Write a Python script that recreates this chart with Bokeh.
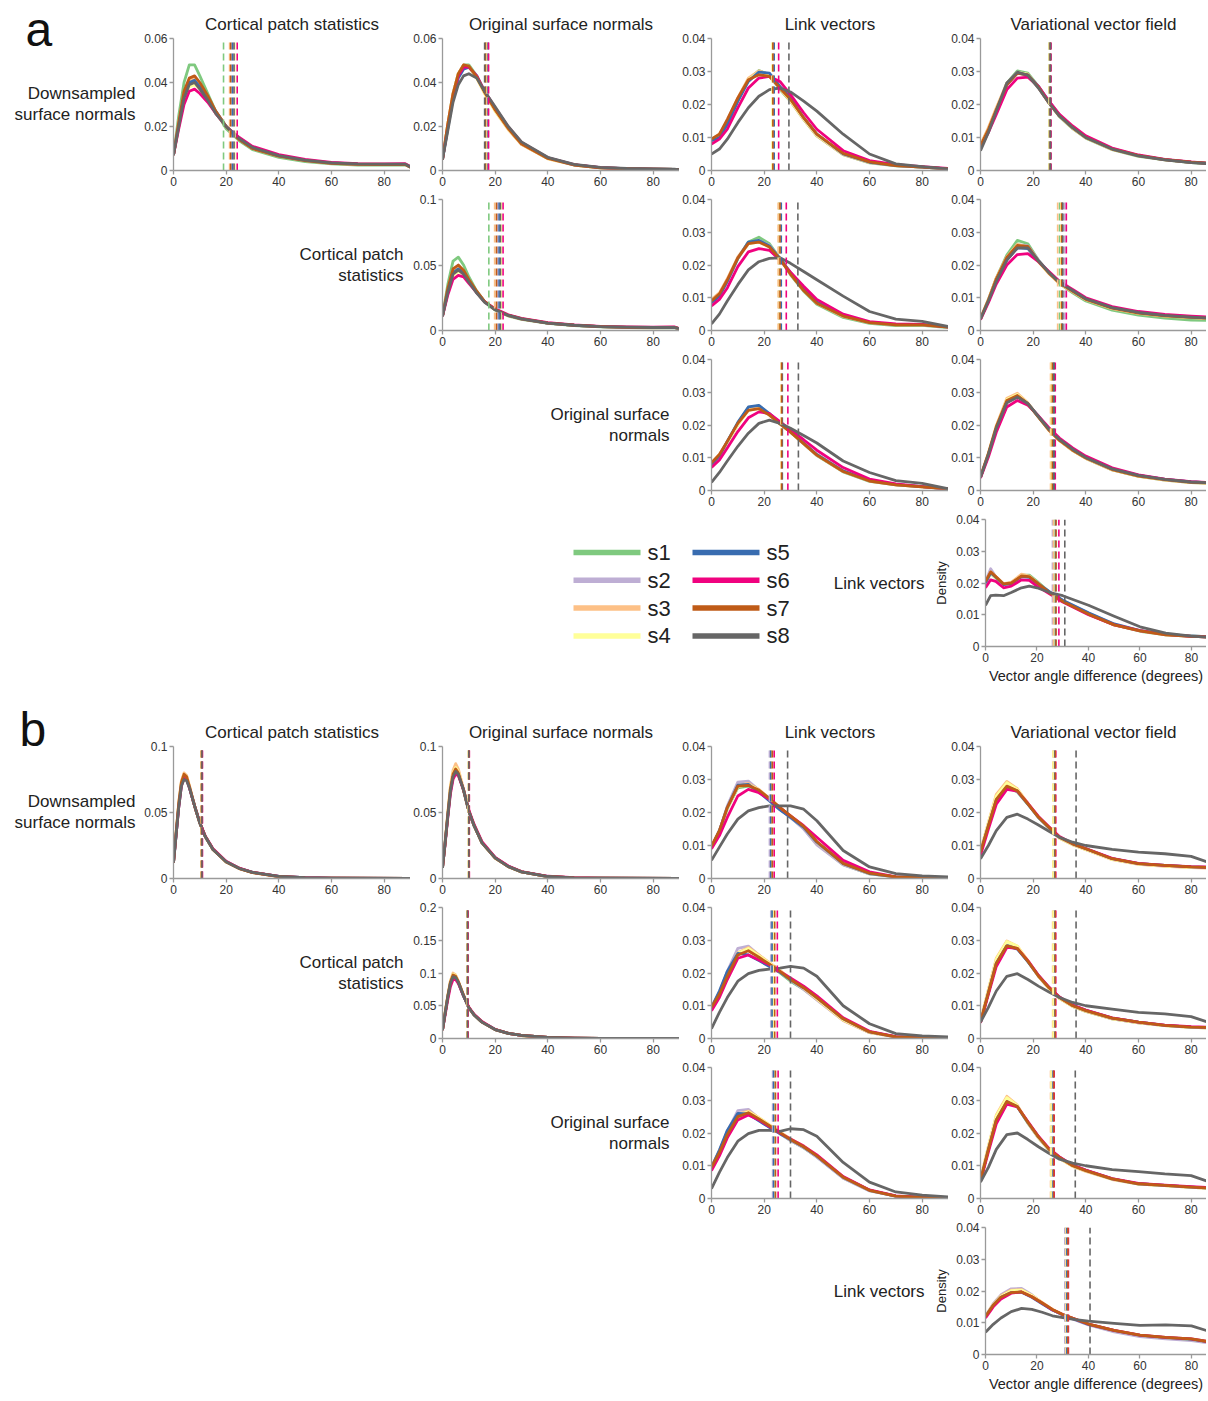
from bokeh.plotting import figure
from bokeh.models import Range1d, FixedTicker, CustomJSTickFormatter, ColumnDataSource
from bokeh.layouts import column, row
from bokeh.embed import file_html
from bokeh.resources import INLINE
from bokeh.core.properties import value

FONT = "Liberation Sans"
SERIES = ["s1", "s2", "s3", "s4", "s5", "s6", "s7", "s8"]
COLORS = ["#7fc97f", "#beaed4", "#fdc086", "#ffff99", "#386cb0", "#f0027f", "#bf5b17", "#666666"]
PANEL_LETTERS = ["a", "b"]
COL_TITLES = ["Cortical patch statistics", "Original surface normals", "Link vectors", "Variational vector field"]
ROW_LABELS = [["Downsampled", "surface normals"], ["Cortical patch", "statistics"],
              ["Original surface", "normals"], ["Link vectors"]]
X_TICKS = [0, 20, 40, 60, 80]
YT_04 = [0, 0.01, 0.02, 0.03, 0.04]
YT_06 = [0, 0.02, 0.04, 0.06]
YT_10 = [0, 0.05, 0.1]
YT_20 = [0, 0.05, 0.1, 0.15, 0.2]
X_LABEL = "Vector angle difference (degrees)"
Y_LABEL = "Density"

# x grids (degrees) at which the density curves were read
GM = [0, 2, 4, 6, 8, 10, 13, 16, 20, 25, 30, 40, 50, 60, 70, 80, 88, 90]
GW = [0, 3, 6, 10, 14, 18, 22, 26, 30, 35, 40, 50, 60, 70, 80, 90]
GN = [0, 1, 2, 3, 4, 5, 6, 8, 10, 12, 15, 20, 25, 30, 40, 50, 60, 90]
GA44 = [0, 2, 4, 7, 10, 14, 17, 20, 25, 30, 40, 50, 60, 70, 80, 90]

# ---------------- panel a ----------------
A11 = dict(
    s1=[0.007, 0.025, 0.040, 0.048, 0.048, 0.043, 0.035, 0.027, 0.019, 0.0135, 0.0095, 0.006, 0.004, 0.003, 0.0025, 0.0025, 0.0025, 0.0015],
    s2=[0.007, 0.021, 0.033, 0.039, 0.040, 0.038, 0.033, 0.027, 0.020, 0.0143, 0.0103, 0.0067, 0.0046, 0.0034, 0.0029, 0.0028, 0.0028, 0.0016],
    s3=[0.007, 0.022, 0.035, 0.041, 0.042, 0.039, 0.033, 0.027, 0.020, 0.014, 0.010, 0.0065, 0.0045, 0.0033, 0.0028, 0.0027, 0.0027, 0.0015],
    s4=[0.007, 0.020, 0.032, 0.038, 0.039, 0.037, 0.032, 0.026, 0.020, 0.0145, 0.0105, 0.0068, 0.0047, 0.0035, 0.003, 0.0029, 0.0029, 0.0016],
    s5=[0.007, 0.021, 0.034, 0.040, 0.041, 0.038, 0.033, 0.027, 0.020, 0.0142, 0.0102, 0.0066, 0.0046, 0.0034, 0.0029, 0.0028, 0.0028, 0.0016],
    s6=[0.007, 0.019, 0.030, 0.036, 0.037, 0.035, 0.031, 0.026, 0.020, 0.015, 0.011, 0.0072, 0.005, 0.0037, 0.0031, 0.003, 0.0031, 0.0017],
    s7=[0.007, 0.022, 0.036, 0.042, 0.043, 0.040, 0.034, 0.027, 0.020, 0.014, 0.010, 0.0065, 0.0045, 0.0033, 0.0028, 0.0027, 0.0027, 0.0015],
    s8=[0.007, 0.020, 0.033, 0.039, 0.040, 0.037, 0.032, 0.026, 0.020, 0.0145, 0.0105, 0.0068, 0.0047, 0.0035, 0.003, 0.0029, 0.0029, 0.0016],
)
MED_A11 = [19.0, 22.7, 21.3, 23.3, 22.3, 24.2, 21.7, 23.0]

A12 = dict(
    s1=[0.005, 0.021, 0.035, 0.044, 0.048, 0.048, 0.043, 0.036, 0.028, 0.019, 0.012, 0.0055, 0.0025, 0.0012, 0.0008, 0.0006, 0.0005, 0.0004],
    s2=[0.005, 0.020, 0.034, 0.043, 0.047, 0.047, 0.043, 0.036, 0.028, 0.0195, 0.0125, 0.0057, 0.0026, 0.0013, 0.0008, 0.0006, 0.0005, 0.0004],
    s3=[0.005, 0.021, 0.035, 0.044, 0.048, 0.0475, 0.042, 0.035, 0.027, 0.0185, 0.0118, 0.0053, 0.0024, 0.0012, 0.0008, 0.0006, 0.0005, 0.0004],
    s4=[0.005, 0.021, 0.035, 0.044, 0.0475, 0.047, 0.042, 0.035, 0.027, 0.0188, 0.012, 0.0054, 0.0025, 0.0012, 0.0008, 0.0006, 0.0005, 0.0004],
    s5=[0.005, 0.019, 0.033, 0.042, 0.046, 0.047, 0.043, 0.036, 0.028, 0.0195, 0.0125, 0.0057, 0.0026, 0.0013, 0.0008, 0.0006, 0.0005, 0.0004],
    s6=[0.005, 0.020, 0.034, 0.043, 0.047, 0.047, 0.043, 0.036, 0.0285, 0.0198, 0.0128, 0.0058, 0.0027, 0.0013, 0.0008, 0.0006, 0.0005, 0.0004],
    s7=[0.005, 0.021, 0.035, 0.044, 0.048, 0.0475, 0.0425, 0.0355, 0.0275, 0.019, 0.012, 0.0055, 0.0025, 0.0012, 0.0008, 0.0006, 0.0005, 0.0004],
    s8=[0.005, 0.018, 0.031, 0.039, 0.043, 0.044, 0.042, 0.036, 0.029, 0.020, 0.013, 0.006, 0.0028, 0.0014, 0.0009, 0.0007, 0.0006, 0.0004],
)
MED_A12 = [16.5, 17.2, 16.6, 17.0, 17.3, 17.5, 16.3, 16.0]

A13 = dict(
    s1=[0.0095, 0.0105, 0.014, 0.021, 0.0275, 0.0303, 0.029, 0.0245, 0.021, 0.0155, 0.0105, 0.0048, 0.0023, 0.0014, 0.001, 0.0005],
    s2=[0.0095, 0.0105, 0.0145, 0.0215, 0.0275, 0.030, 0.0292, 0.025, 0.0213, 0.0158, 0.0108, 0.005, 0.0025, 0.0015, 0.001, 0.0005],
    s3=[0.0095, 0.011, 0.015, 0.022, 0.028, 0.0302, 0.029, 0.0248, 0.021, 0.0155, 0.0105, 0.0048, 0.0024, 0.0015, 0.001, 0.0005],
    s4=[0.0092, 0.0105, 0.0145, 0.0215, 0.0275, 0.0298, 0.0288, 0.025, 0.0212, 0.0157, 0.0107, 0.005, 0.0025, 0.0015, 0.001, 0.0005],
    s5=[0.009, 0.010, 0.014, 0.021, 0.027, 0.0298, 0.0295, 0.0255, 0.022, 0.016, 0.011, 0.005, 0.0025, 0.0015, 0.001, 0.0005],
    s6=[0.008, 0.0095, 0.0125, 0.019, 0.025, 0.028, 0.0285, 0.027, 0.023, 0.0175, 0.0125, 0.006, 0.003, 0.0018, 0.0012, 0.0006],
    s7=[0.0095, 0.011, 0.0155, 0.022, 0.0275, 0.029, 0.0285, 0.025, 0.0215, 0.016, 0.011, 0.0052, 0.0026, 0.0015, 0.001, 0.0005],
    s8=[0.005, 0.0065, 0.0095, 0.0145, 0.019, 0.0225, 0.0245, 0.025, 0.0238, 0.021, 0.018, 0.011, 0.005, 0.002, 0.0012, 0.0005],
)
MED_A13 = [23.2, 23.6, 23.4, 23.0, 23.8, 25.5, 23.3, 29.4]

A14 = dict(
    s1=[0.0075, 0.0125, 0.0185, 0.0265, 0.0302, 0.0295, 0.0255, 0.0205, 0.0163, 0.0127, 0.0098, 0.0063, 0.0043, 0.0032, 0.0024, 0.0019],
    s2=[0.007, 0.012, 0.018, 0.026, 0.0298, 0.029, 0.025, 0.0205, 0.0165, 0.013, 0.010, 0.0065, 0.0045, 0.0033, 0.0025, 0.002],
    s3=[0.0078, 0.013, 0.019, 0.0265, 0.0295, 0.0288, 0.0252, 0.0205, 0.0165, 0.0128, 0.0099, 0.0064, 0.0044, 0.0032, 0.0025, 0.002],
    s4=[0.0075, 0.0125, 0.0185, 0.026, 0.0297, 0.0292, 0.0253, 0.0206, 0.0166, 0.013, 0.010, 0.0065, 0.0045, 0.0033, 0.0025, 0.002],
    s5=[0.007, 0.012, 0.018, 0.026, 0.0295, 0.029, 0.0255, 0.021, 0.0168, 0.0131, 0.0101, 0.0066, 0.0045, 0.0033, 0.0025, 0.002],
    s6=[0.007, 0.0115, 0.017, 0.0245, 0.028, 0.0283, 0.0255, 0.021, 0.017, 0.0135, 0.0105, 0.0068, 0.0047, 0.0034, 0.0026, 0.002],
    s7=[0.0075, 0.0125, 0.0185, 0.026, 0.0295, 0.029, 0.0252, 0.0205, 0.0165, 0.013, 0.010, 0.0065, 0.0045, 0.0033, 0.0025, 0.002],
    s8=[0.006, 0.0115, 0.018, 0.0265, 0.0298, 0.0288, 0.025, 0.0205, 0.0165, 0.013, 0.010, 0.0065, 0.0044, 0.0032, 0.0024, 0.0019],
)
MED_A14 = [26.0, 26.3, 26.1, 26.2, 26.4, 26.8, 26.5, 26.6]

A22 = dict(
    s1=[0.011, 0.035, 0.053, 0.056, 0.050, 0.041, 0.030, 0.022, 0.0155, 0.011, 0.0085, 0.0055, 0.0038, 0.0028, 0.0022, 0.002, 0.0022, 0.0012],
    s2=[0.011, 0.029, 0.043, 0.046, 0.043, 0.037, 0.029, 0.022, 0.016, 0.0117, 0.009, 0.0058, 0.0041, 0.003, 0.0025, 0.0023, 0.0025, 0.0013],
    s3=[0.011, 0.031, 0.046, 0.049, 0.045, 0.038, 0.029, 0.022, 0.0158, 0.0113, 0.0087, 0.0056, 0.0039, 0.0029, 0.0023, 0.0021, 0.0023, 0.0012],
    s4=[0.011, 0.029, 0.042, 0.045, 0.043, 0.037, 0.029, 0.022, 0.016, 0.0117, 0.009, 0.0058, 0.0041, 0.003, 0.0025, 0.0023, 0.0025, 0.0013],
    s5=[0.011, 0.030, 0.044, 0.047, 0.044, 0.038, 0.029, 0.022, 0.016, 0.0115, 0.0088, 0.0057, 0.004, 0.003, 0.0024, 0.0022, 0.0024, 0.0013],
    s6=[0.011, 0.027, 0.039, 0.042, 0.041, 0.036, 0.029, 0.022, 0.0165, 0.012, 0.0093, 0.006, 0.0043, 0.0032, 0.0027, 0.0026, 0.0028, 0.0015],
    s7=[0.011, 0.032, 0.047, 0.050, 0.046, 0.039, 0.030, 0.022, 0.016, 0.0115, 0.0088, 0.0057, 0.004, 0.003, 0.0024, 0.0022, 0.0024, 0.0013],
    s8=[0.011, 0.029, 0.043, 0.046, 0.043, 0.037, 0.0285, 0.0215, 0.0158, 0.0115, 0.0088, 0.0057, 0.004, 0.003, 0.0025, 0.0023, 0.0024, 0.0013],
)
MED_A22 = [17.6, 21.0, 19.8, 22.3, 21.5, 23.0, 20.5, 22.0]

A23 = dict(
    s1=[0.009, 0.011, 0.015, 0.022, 0.027, 0.0285, 0.0265, 0.022, 0.017, 0.012, 0.008, 0.004, 0.0022, 0.0015, 0.0016, 0.0009],
    s2=[0.009, 0.011, 0.015, 0.022, 0.0265, 0.0275, 0.026, 0.022, 0.0175, 0.0125, 0.0085, 0.0045, 0.0025, 0.0018, 0.0018, 0.001],
    s3=[0.0095, 0.0115, 0.0158, 0.0225, 0.0268, 0.0273, 0.0255, 0.0218, 0.0173, 0.0123, 0.0083, 0.0043, 0.0024, 0.0017, 0.0017, 0.001],
    s4=[0.009, 0.011, 0.0152, 0.022, 0.0265, 0.027, 0.0255, 0.022, 0.0175, 0.0125, 0.0085, 0.0045, 0.0025, 0.0018, 0.0018, 0.001],
    s5=[0.0085, 0.0105, 0.015, 0.022, 0.027, 0.0275, 0.0258, 0.022, 0.0177, 0.0127, 0.0087, 0.0046, 0.0025, 0.0018, 0.0018, 0.001],
    s6=[0.0075, 0.0095, 0.013, 0.0195, 0.024, 0.025, 0.0245, 0.0215, 0.0178, 0.0135, 0.0095, 0.005, 0.0027, 0.002, 0.0019, 0.0011],
    s7=[0.009, 0.0112, 0.0155, 0.0222, 0.0265, 0.027, 0.0255, 0.0218, 0.0172, 0.0122, 0.0083, 0.0044, 0.0024, 0.0017, 0.0017, 0.001],
    s8=[0.002, 0.005, 0.009, 0.014, 0.0185, 0.021, 0.022, 0.0222, 0.0205, 0.018, 0.0155, 0.0105, 0.0058, 0.0035, 0.0028, 0.0012],
)
MED_A23 = [25.6, 26.2, 25.3, 25.9, 26.5, 28.4, 26.0, 32.8]

A24 = dict(
    s1=[0.0035, 0.0095, 0.016, 0.023, 0.0275, 0.0265, 0.0215, 0.0175, 0.0143, 0.0115, 0.009, 0.0062, 0.0047, 0.0038, 0.0032, 0.003],
    s2=[0.0035, 0.009, 0.0155, 0.0222, 0.0262, 0.0258, 0.0215, 0.0178, 0.0147, 0.0122, 0.0097, 0.007, 0.0055, 0.0047, 0.0042, 0.0038],
    s3=[0.0038, 0.0095, 0.016, 0.0225, 0.0263, 0.0255, 0.021, 0.0173, 0.0143, 0.0118, 0.0094, 0.0067, 0.0052, 0.0044, 0.0039, 0.0035],
    s4=[0.0035, 0.0092, 0.0157, 0.0222, 0.026, 0.0254, 0.021, 0.0175, 0.0145, 0.012, 0.0095, 0.0068, 0.0053, 0.0045, 0.004, 0.0036],
    s5=[0.0035, 0.009, 0.015, 0.0215, 0.0252, 0.025, 0.0212, 0.0177, 0.0147, 0.0122, 0.0097, 0.007, 0.0055, 0.0046, 0.0041, 0.0037],
    s6=[0.0033, 0.0085, 0.0142, 0.020, 0.0232, 0.0235, 0.021, 0.018, 0.015, 0.0125, 0.010, 0.0073, 0.0058, 0.0049, 0.0044, 0.004],
    s7=[0.0036, 0.0093, 0.0158, 0.0223, 0.026, 0.0257, 0.0212, 0.0175, 0.0145, 0.012, 0.0095, 0.0068, 0.0053, 0.0045, 0.004, 0.0036],
    s8=[0.0035, 0.009, 0.015, 0.0215, 0.0252, 0.0252, 0.0213, 0.0177, 0.0147, 0.0122, 0.0097, 0.007, 0.0055, 0.0046, 0.0041, 0.0037],
)
MED_A24 = [30.0, 32.0, 29.3, 30.5, 31.0, 32.6, 30.8, 31.3]

A33 = dict(
    s1=[0.0082, 0.0105, 0.0148, 0.0205, 0.0253, 0.0258, 0.0232, 0.0203, 0.0178, 0.0142, 0.0107, 0.0057, 0.0028, 0.0017, 0.0011, 0.0005],
    s2=[0.008, 0.0105, 0.0145, 0.020, 0.025, 0.0255, 0.0233, 0.0205, 0.018, 0.0145, 0.011, 0.006, 0.003, 0.0018, 0.0012, 0.0005],
    s3=[0.0085, 0.011, 0.015, 0.0205, 0.0248, 0.0252, 0.023, 0.0203, 0.0178, 0.0143, 0.0108, 0.0058, 0.0029, 0.0017, 0.0011, 0.0005],
    s4=[0.008, 0.0105, 0.0145, 0.020, 0.0245, 0.025, 0.023, 0.0204, 0.018, 0.0145, 0.011, 0.006, 0.003, 0.0018, 0.0012, 0.0005],
    s5=[0.008, 0.0105, 0.015, 0.0208, 0.0255, 0.026, 0.0235, 0.0205, 0.018, 0.0145, 0.011, 0.006, 0.003, 0.0018, 0.0012, 0.0005],
    s6=[0.007, 0.0093, 0.013, 0.018, 0.0222, 0.024, 0.0235, 0.021, 0.0185, 0.0155, 0.0123, 0.007, 0.0035, 0.002, 0.0012, 0.0005],
    s7=[0.0085, 0.011, 0.015, 0.0205, 0.0245, 0.025, 0.023, 0.0203, 0.0178, 0.0143, 0.0108, 0.0058, 0.0029, 0.0017, 0.0011, 0.0005],
    s8=[0.0025, 0.0055, 0.009, 0.0135, 0.0175, 0.0205, 0.0215, 0.0205, 0.019, 0.0168, 0.0145, 0.009, 0.0055, 0.003, 0.0022, 0.0005],
)
MED_A33 = [26.5, 26.8, 26.4, 26.6, 26.9, 29.0, 26.7, 33.0]

A34 = dict(
    s1=[0.004, 0.011, 0.019, 0.027, 0.029, 0.0265, 0.0225, 0.0185, 0.0153, 0.0122, 0.0098, 0.0063, 0.0043, 0.0032, 0.0024, 0.0021],
    s2=[0.004, 0.0108, 0.0188, 0.0268, 0.0288, 0.0265, 0.0226, 0.0187, 0.0156, 0.0126, 0.0101, 0.0066, 0.0046, 0.0034, 0.0026, 0.0023],
    s3=[0.0042, 0.0115, 0.0198, 0.0282, 0.0297, 0.0268, 0.0225, 0.0183, 0.0152, 0.0122, 0.0098, 0.0063, 0.0044, 0.0032, 0.0024, 0.0021],
    s4=[0.0042, 0.0113, 0.0195, 0.0278, 0.0293, 0.0266, 0.0224, 0.0184, 0.0153, 0.0123, 0.0099, 0.0064, 0.0044, 0.0033, 0.0025, 0.0022],
    s5=[0.004, 0.011, 0.019, 0.027, 0.0288, 0.0265, 0.0226, 0.0187, 0.0156, 0.0126, 0.0101, 0.0066, 0.0046, 0.0034, 0.0026, 0.0023],
    s6=[0.0038, 0.0102, 0.0178, 0.0255, 0.0275, 0.026, 0.0228, 0.0192, 0.016, 0.013, 0.0105, 0.0069, 0.0048, 0.0035, 0.0027, 0.0023],
    s7=[0.0042, 0.0113, 0.0195, 0.0275, 0.029, 0.0265, 0.0224, 0.0184, 0.0153, 0.0123, 0.0099, 0.0064, 0.0044, 0.0033, 0.0025, 0.0022],
    s8=[0.004, 0.011, 0.019, 0.0268, 0.0285, 0.0265, 0.0226, 0.0187, 0.0156, 0.0126, 0.0101, 0.0066, 0.0046, 0.0034, 0.0026, 0.0023],
)
MED_A34 = [27.0, 27.6, 26.6, 26.9, 27.8, 28.4, 27.3, 28.0]

A44 = dict(
    s1=[0.020, 0.023, 0.0215, 0.0195, 0.020, 0.0225, 0.0225, 0.0205, 0.017, 0.0143, 0.0102, 0.0068, 0.0048, 0.0037, 0.0032, 0.0029],
    s2=[0.0205, 0.0245, 0.022, 0.0195, 0.0198, 0.022, 0.022, 0.020, 0.017, 0.0145, 0.0105, 0.007, 0.005, 0.0038, 0.0033, 0.003],
    s3=[0.0205, 0.0235, 0.022, 0.0198, 0.0202, 0.0228, 0.0222, 0.0202, 0.0168, 0.0142, 0.0102, 0.0068, 0.0049, 0.0037, 0.0032, 0.0029],
    s4=[0.020, 0.023, 0.0215, 0.0195, 0.020, 0.0222, 0.022, 0.020, 0.017, 0.0144, 0.0104, 0.007, 0.005, 0.0038, 0.0033, 0.003],
    s5=[0.020, 0.0232, 0.0218, 0.0195, 0.0198, 0.022, 0.0218, 0.020, 0.0172, 0.0146, 0.0106, 0.0071, 0.005, 0.0038, 0.0033, 0.003],
    s6=[0.0185, 0.021, 0.0205, 0.0185, 0.019, 0.021, 0.0208, 0.019, 0.0165, 0.014, 0.010, 0.0068, 0.005, 0.0038, 0.0032, 0.0029],
    s7=[0.0205, 0.0235, 0.022, 0.0197, 0.020, 0.0222, 0.022, 0.0201, 0.0168, 0.0142, 0.0102, 0.0068, 0.0049, 0.0037, 0.0032, 0.0029],
    s8=[0.013, 0.016, 0.0162, 0.016, 0.017, 0.0185, 0.019, 0.0185, 0.017, 0.016, 0.013, 0.0095, 0.0062, 0.0042, 0.0033, 0.0027],
)
MED_A44 = [26.8, 26.0, 26.4, 27.0, 27.2, 28.5, 27.4, 30.8]

# ---------------- panel b ----------------
B11 = dict(
    s1=[0.012, 0.034, 0.056, 0.072, 0.078, 0.076, 0.070, 0.055, 0.042, 0.032, 0.022, 0.0126, 0.0076, 0.0046, 0.0016, 0.0006, 0.0003, 0.0001],
    s2=[0.012, 0.034, 0.056, 0.072, 0.077, 0.076, 0.070, 0.055, 0.042, 0.032, 0.022, 0.0127, 0.0076, 0.0046, 0.0016, 0.0006, 0.0003, 0.0001],
    s3=[0.012, 0.035, 0.058, 0.074, 0.080, 0.078, 0.071, 0.055, 0.042, 0.032, 0.022, 0.0125, 0.0075, 0.0045, 0.0015, 0.0005, 0.0003, 0.0001],
    s4=[0.012, 0.035, 0.057, 0.073, 0.079, 0.077, 0.070, 0.055, 0.042, 0.032, 0.022, 0.0125, 0.0075, 0.0045, 0.0015, 0.0005, 0.0003, 0.0001],
    s5=[0.012, 0.033, 0.055, 0.071, 0.076, 0.075, 0.069, 0.055, 0.042, 0.032, 0.0222, 0.0127, 0.0077, 0.0046, 0.0016, 0.0006, 0.0003, 0.0001],
    s6=[0.012, 0.033, 0.054, 0.070, 0.076, 0.075, 0.069, 0.055, 0.0425, 0.0325, 0.0225, 0.013, 0.0078, 0.0047, 0.0016, 0.0006, 0.0003, 0.0001],
    s7=[0.012, 0.035, 0.057, 0.073, 0.079, 0.077, 0.070, 0.055, 0.042, 0.032, 0.022, 0.0125, 0.0075, 0.0045, 0.0015, 0.0005, 0.0003, 0.0001],
    s8=[0.012, 0.033, 0.054, 0.070, 0.075, 0.074, 0.069, 0.055, 0.042, 0.032, 0.022, 0.0127, 0.0076, 0.0046, 0.0016, 0.0006, 0.0003, 0.0001],
)
MED_B11 = [10.7, 10.8, 10.5, 10.6, 10.9, 11.0, 10.6, 10.8]

B12 = dict(
    s1=[0.008, 0.027, 0.048, 0.068, 0.079, 0.083, 0.080, 0.067, 0.051, 0.040, 0.027, 0.0155, 0.009, 0.005, 0.0015, 0.0005, 0.0002, 0.0001],
    s2=[0.008, 0.027, 0.048, 0.067, 0.078, 0.082, 0.080, 0.067, 0.051, 0.040, 0.027, 0.0157, 0.009, 0.005, 0.0015, 0.0005, 0.0002, 0.0001],
    s3=[0.008, 0.028, 0.050, 0.070, 0.082, 0.087, 0.083, 0.068, 0.051, 0.040, 0.027, 0.0155, 0.009, 0.005, 0.0015, 0.0005, 0.0002, 0.0001],
    s4=[0.008, 0.028, 0.049, 0.069, 0.080, 0.084, 0.081, 0.067, 0.051, 0.040, 0.027, 0.0155, 0.009, 0.005, 0.0015, 0.0005, 0.0002, 0.0001],
    s5=[0.008, 0.027, 0.047, 0.066, 0.077, 0.081, 0.079, 0.067, 0.051, 0.040, 0.0272, 0.0157, 0.0092, 0.0051, 0.0016, 0.0005, 0.0002, 0.0001],
    s6=[0.008, 0.026, 0.046, 0.064, 0.075, 0.079, 0.078, 0.067, 0.052, 0.041, 0.028, 0.016, 0.0095, 0.0053, 0.0017, 0.0006, 0.0002, 0.0001],
    s7=[0.008, 0.027, 0.048, 0.068, 0.079, 0.083, 0.080, 0.067, 0.051, 0.040, 0.027, 0.0155, 0.009, 0.005, 0.0015, 0.0005, 0.0002, 0.0001],
    s8=[0.008, 0.027, 0.047, 0.066, 0.077, 0.081, 0.079, 0.067, 0.051, 0.040, 0.027, 0.0156, 0.009, 0.005, 0.0015, 0.0005, 0.0002, 0.0001],
)
MED_B12 = [9.9, 10.1, 9.8, 9.9, 10.1, 10.2, 10.0, 10.0]

B13 = dict(
    s1=[0.0095, 0.014, 0.021, 0.0275, 0.028, 0.0265, 0.0238, 0.021, 0.0185, 0.0152, 0.0105, 0.0042, 0.0014, 0.0005, 0.0003, 0.0002],
    s2=[0.0095, 0.0145, 0.022, 0.0292, 0.0295, 0.0268, 0.0238, 0.021, 0.0185, 0.015, 0.0102, 0.0041, 0.0014, 0.0005, 0.0003, 0.0002],
    s3=[0.0098, 0.0145, 0.0215, 0.0282, 0.0288, 0.027, 0.0243, 0.0215, 0.0188, 0.0155, 0.0108, 0.0044, 0.0015, 0.0005, 0.0003, 0.0002],
    s4=[0.0095, 0.014, 0.021, 0.0278, 0.0285, 0.0268, 0.0242, 0.0215, 0.019, 0.0158, 0.011, 0.0045, 0.0015, 0.0005, 0.0003, 0.0002],
    s5=[0.0095, 0.0145, 0.0215, 0.0283, 0.0285, 0.0262, 0.0235, 0.0208, 0.0185, 0.0155, 0.011, 0.0045, 0.0015, 0.0005, 0.0003, 0.0002],
    s6=[0.009, 0.013, 0.0185, 0.025, 0.027, 0.026, 0.024, 0.0215, 0.019, 0.016, 0.0125, 0.0055, 0.002, 0.0005, 0.0003, 0.0002],
    s7=[0.0098, 0.0145, 0.0215, 0.028, 0.0282, 0.0268, 0.0243, 0.0215, 0.019, 0.0158, 0.0112, 0.0046, 0.0016, 0.0005, 0.0003, 0.0002],
    s8=[0.0055, 0.0095, 0.0135, 0.018, 0.0205, 0.0215, 0.022, 0.022, 0.022, 0.021, 0.0175, 0.0085, 0.0035, 0.0015, 0.0008, 0.0005],
)
MED_B13 = [22.3, 22.0, 22.6, 22.9, 22.5, 23.8, 23.1, 28.9]

B14 = dict(
    s1=[0.008, 0.016, 0.024, 0.0278, 0.0262, 0.0225, 0.0185, 0.0153, 0.0123, 0.0103, 0.0088, 0.0059, 0.0044, 0.0038, 0.0034, 0.0032],
    s2=[0.008, 0.016, 0.0238, 0.0278, 0.0265, 0.0227, 0.0187, 0.0155, 0.0125, 0.0105, 0.009, 0.006, 0.0045, 0.004, 0.0035, 0.0033],
    s3=[0.0085, 0.017, 0.0255, 0.0294, 0.0272, 0.0228, 0.0185, 0.0152, 0.0122, 0.0102, 0.0087, 0.0057, 0.0043, 0.0037, 0.0033, 0.0031],
    s4=[0.0085, 0.0168, 0.025, 0.029, 0.027, 0.0227, 0.0185, 0.0153, 0.0123, 0.0103, 0.0088, 0.0058, 0.0044, 0.0038, 0.0034, 0.0032],
    s5=[0.008, 0.016, 0.0238, 0.0278, 0.0265, 0.0225, 0.0185, 0.0154, 0.0125, 0.0105, 0.009, 0.006, 0.0045, 0.004, 0.0035, 0.0033],
    s6=[0.007, 0.015, 0.0225, 0.027, 0.0265, 0.0228, 0.0188, 0.0157, 0.0127, 0.0106, 0.0091, 0.0061, 0.0046, 0.004, 0.0036, 0.0034],
    s7=[0.008, 0.016, 0.024, 0.028, 0.0266, 0.0226, 0.0186, 0.0155, 0.0125, 0.0105, 0.009, 0.006, 0.0045, 0.004, 0.0035, 0.0033],
    s8=[0.006, 0.010, 0.0145, 0.0185, 0.0195, 0.018, 0.0162, 0.0143, 0.0125, 0.011, 0.010, 0.0088, 0.008, 0.0075, 0.0067, 0.004],
)
MED_B14 = [27.8, 28.0, 27.5, 27.6, 28.2, 28.6, 28.4, 36.3]

B22 = dict(
    s1=[0.013, 0.039, 0.064, 0.085, 0.096, 0.094, 0.086, 0.065, 0.047, 0.036, 0.025, 0.0135, 0.0078, 0.0046, 0.0016, 0.0005, 0.0002, 0.0001],
    s2=[0.013, 0.039, 0.064, 0.085, 0.096, 0.094, 0.086, 0.065, 0.047, 0.0362, 0.0252, 0.0136, 0.0079, 0.0047, 0.0016, 0.0005, 0.0002, 0.0001],
    s3=[0.013, 0.040, 0.066, 0.088, 0.100, 0.097, 0.088, 0.066, 0.047, 0.036, 0.025, 0.0135, 0.0078, 0.0046, 0.0016, 0.0005, 0.0002, 0.0001],
    s4=[0.013, 0.040, 0.065, 0.087, 0.098, 0.096, 0.087, 0.066, 0.047, 0.036, 0.025, 0.0135, 0.0078, 0.0046, 0.0016, 0.0005, 0.0002, 0.0001],
    s5=[0.013, 0.038, 0.063, 0.084, 0.095, 0.093, 0.086, 0.065, 0.047, 0.036, 0.025, 0.0136, 0.0079, 0.0047, 0.0016, 0.0005, 0.0002, 0.0001],
    s6=[0.013, 0.036, 0.059, 0.079, 0.090, 0.090, 0.084, 0.065, 0.048, 0.037, 0.026, 0.014, 0.008, 0.0048, 0.0017, 0.0006, 0.0002, 0.0001],
    s7=[0.013, 0.039, 0.064, 0.086, 0.097, 0.095, 0.087, 0.066, 0.047, 0.036, 0.025, 0.0135, 0.0078, 0.0046, 0.0016, 0.0005, 0.0002, 0.0001],
    s8=[0.013, 0.038, 0.063, 0.084, 0.094, 0.093, 0.086, 0.065, 0.047, 0.036, 0.025, 0.0136, 0.0079, 0.0047, 0.0016, 0.0005, 0.0002, 0.0001],
)
MED_B22 = [9.4, 9.6, 9.3, 9.4, 9.6, 9.7, 9.5, 9.5]

B23 = dict(
    s1=[0.0095, 0.0135, 0.019, 0.0255, 0.0272, 0.025, 0.0225, 0.020, 0.0175, 0.015, 0.012, 0.0058, 0.002, 0.0005, 0.0002, 0.0001],
    s2=[0.0095, 0.014, 0.0205, 0.0275, 0.0282, 0.0255, 0.0228, 0.0203, 0.0178, 0.015, 0.0118, 0.0055, 0.0018, 0.0005, 0.0002, 0.0001],
    s3=[0.0098, 0.014, 0.0198, 0.0262, 0.0278, 0.0255, 0.0232, 0.0208, 0.0182, 0.0153, 0.012, 0.0055, 0.0018, 0.0005, 0.0002, 0.0001],
    s4=[0.0095, 0.0138, 0.0195, 0.026, 0.0275, 0.0253, 0.023, 0.0207, 0.0182, 0.0155, 0.0122, 0.0057, 0.0019, 0.0005, 0.0002, 0.0001],
    s5=[0.0095, 0.0145, 0.0205, 0.026, 0.0255, 0.0238, 0.022, 0.0203, 0.018, 0.0155, 0.0125, 0.006, 0.002, 0.0005, 0.0002, 0.0001],
    s6=[0.0085, 0.0125, 0.018, 0.0245, 0.0255, 0.024, 0.0225, 0.0205, 0.0185, 0.016, 0.013, 0.0063, 0.0022, 0.0006, 0.0002, 0.0001],
    s7=[0.0095, 0.0135, 0.019, 0.0255, 0.0268, 0.0248, 0.0227, 0.0205, 0.018, 0.0155, 0.0125, 0.006, 0.002, 0.0005, 0.0002, 0.0001],
    s8=[0.003, 0.008, 0.0125, 0.0175, 0.0198, 0.0208, 0.0212, 0.0215, 0.022, 0.0215, 0.019, 0.010, 0.0045, 0.0015, 0.0008, 0.0005],
)
MED_B23 = [22.8, 22.5, 23.3, 23.6, 23.0, 25.0, 24.0, 30.0]

B24 = dict(
    s1=[0.005, 0.014, 0.023, 0.0285, 0.0275, 0.0235, 0.019, 0.0153, 0.0123, 0.0098, 0.0083, 0.006, 0.0048, 0.0039, 0.0034, 0.0032],
    s2=[0.005, 0.014, 0.0228, 0.0283, 0.0275, 0.0237, 0.0192, 0.0156, 0.0126, 0.0101, 0.0086, 0.0062, 0.005, 0.004, 0.0035, 0.0033],
    s3=[0.0055, 0.015, 0.0245, 0.0298, 0.0282, 0.0237, 0.019, 0.0152, 0.0122, 0.0098, 0.0083, 0.006, 0.0048, 0.0039, 0.0034, 0.0032],
    s4=[0.0055, 0.0148, 0.0242, 0.0296, 0.0282, 0.0238, 0.0191, 0.0153, 0.0123, 0.0099, 0.0084, 0.0061, 0.0049, 0.0039, 0.0034, 0.0032],
    s5=[0.005, 0.014, 0.023, 0.0283, 0.0273, 0.0235, 0.0192, 0.0156, 0.0126, 0.0101, 0.0086, 0.0062, 0.005, 0.004, 0.0035, 0.0033],
    s6=[0.0048, 0.0135, 0.022, 0.0278, 0.0275, 0.0238, 0.0193, 0.0157, 0.0127, 0.0102, 0.0087, 0.0063, 0.005, 0.0041, 0.0036, 0.0034],
    s7=[0.005, 0.014, 0.023, 0.0283, 0.0275, 0.0236, 0.0191, 0.0155, 0.0125, 0.010, 0.0085, 0.0062, 0.005, 0.004, 0.0035, 0.0033],
    s8=[0.005, 0.0095, 0.0145, 0.019, 0.0198, 0.018, 0.016, 0.0142, 0.0125, 0.011, 0.010, 0.009, 0.008, 0.0075, 0.0067, 0.004],
)
MED_B24 = [27.8, 28.1, 27.4, 27.6, 28.3, 28.6, 28.4, 36.3]

B33 = dict(
    s1=[0.0095, 0.014, 0.0195, 0.025, 0.026, 0.024, 0.0218, 0.0198, 0.0177, 0.0155, 0.0127, 0.0063, 0.0024, 0.0007, 0.0003, 0.0002],
    s2=[0.0095, 0.0145, 0.0205, 0.0268, 0.0272, 0.0245, 0.022, 0.0198, 0.0177, 0.0155, 0.0126, 0.0062, 0.0023, 0.0007, 0.0003, 0.0002],
    s3=[0.0098, 0.0145, 0.020, 0.0258, 0.0267, 0.0247, 0.0225, 0.0203, 0.0182, 0.016, 0.0132, 0.0065, 0.0025, 0.0007, 0.0003, 0.0002],
    s4=[0.0095, 0.014, 0.0198, 0.0255, 0.0265, 0.0246, 0.0225, 0.0203, 0.0182, 0.016, 0.0132, 0.0066, 0.0025, 0.0007, 0.0003, 0.0002],
    s5=[0.0095, 0.0148, 0.0208, 0.026, 0.0258, 0.0237, 0.0217, 0.0198, 0.018, 0.0158, 0.013, 0.0065, 0.0025, 0.0007, 0.0003, 0.0002],
    s6=[0.0085, 0.013, 0.0185, 0.024, 0.0255, 0.024, 0.022, 0.020, 0.0182, 0.016, 0.0133, 0.0067, 0.0026, 0.0008, 0.0003, 0.0002],
    s7=[0.0095, 0.014, 0.0195, 0.025, 0.0262, 0.0243, 0.0222, 0.0201, 0.018, 0.0158, 0.013, 0.0065, 0.0025, 0.0007, 0.0003, 0.0002],
    s8=[0.003, 0.008, 0.0125, 0.0175, 0.0198, 0.0208, 0.0208, 0.0205, 0.0213, 0.021, 0.019, 0.011, 0.005, 0.002, 0.001, 0.0005],
)
MED_B33 = [23.4, 23.2, 23.8, 24.0, 23.6, 25.3, 24.3, 30.0]

B34 = dict(
    s1=[0.0055, 0.015, 0.024, 0.0298, 0.028, 0.023, 0.0185, 0.0148, 0.0123, 0.0099, 0.0084, 0.0059, 0.0044, 0.0039, 0.0034, 0.003],
    s2=[0.0055, 0.015, 0.0238, 0.0296, 0.0282, 0.0233, 0.0188, 0.0151, 0.0126, 0.0101, 0.0086, 0.006, 0.0045, 0.004, 0.0035, 0.0031],
    s3=[0.006, 0.016, 0.0255, 0.0312, 0.0285, 0.0231, 0.0185, 0.0148, 0.0122, 0.0098, 0.0083, 0.0058, 0.0044, 0.0039, 0.0034, 0.003],
    s4=[0.006, 0.0158, 0.0252, 0.0308, 0.0284, 0.0232, 0.0186, 0.0149, 0.0123, 0.0099, 0.0084, 0.0059, 0.0044, 0.0039, 0.0034, 0.003],
    s5=[0.0055, 0.015, 0.024, 0.0295, 0.028, 0.0232, 0.0188, 0.0151, 0.0126, 0.0101, 0.0086, 0.006, 0.0045, 0.004, 0.0035, 0.0031],
    s6=[0.0052, 0.0142, 0.0228, 0.0288, 0.028, 0.0235, 0.019, 0.0153, 0.0127, 0.0102, 0.0087, 0.0061, 0.0046, 0.0041, 0.0036, 0.0032],
    s7=[0.0055, 0.015, 0.024, 0.0296, 0.0281, 0.0233, 0.0188, 0.0151, 0.0125, 0.010, 0.0085, 0.006, 0.0045, 0.004, 0.0035, 0.0031],
    s8=[0.005, 0.0095, 0.015, 0.0195, 0.020, 0.018, 0.0158, 0.0138, 0.012, 0.0108, 0.010, 0.0088, 0.0082, 0.0075, 0.007, 0.0042],
)
MED_B34 = [27.0, 27.4, 26.6, 26.8, 27.6, 28.0, 27.8, 36.0]

B44 = dict(
    s1=[0.012, 0.0155, 0.018, 0.0198, 0.020, 0.0183, 0.0162, 0.014, 0.0125, 0.011, 0.0095, 0.0074, 0.0059, 0.0052, 0.0047, 0.0035],
    s2=[0.012, 0.016, 0.0188, 0.0207, 0.0208, 0.0188, 0.0163, 0.0141, 0.0124, 0.0108, 0.0093, 0.0071, 0.0056, 0.0049, 0.0044, 0.0033],
    s3=[0.0122, 0.0158, 0.0185, 0.0203, 0.0204, 0.0186, 0.0164, 0.0142, 0.0126, 0.0111, 0.0096, 0.0075, 0.006, 0.0053, 0.0048, 0.0035],
    s4=[0.012, 0.0157, 0.0183, 0.0201, 0.0203, 0.0186, 0.0164, 0.0142, 0.0126, 0.0111, 0.0096, 0.0075, 0.006, 0.0053, 0.0048, 0.0035],
    s5=[0.012, 0.0155, 0.018, 0.0195, 0.0196, 0.018, 0.016, 0.014, 0.0125, 0.011, 0.0095, 0.0075, 0.006, 0.0053, 0.0048, 0.0035],
    s6=[0.0115, 0.015, 0.0175, 0.0193, 0.0197, 0.0182, 0.0162, 0.0141, 0.0126, 0.0111, 0.0096, 0.0076, 0.0061, 0.0054, 0.0049, 0.0036],
    s7=[0.012, 0.0155, 0.018, 0.0195, 0.0197, 0.0182, 0.0162, 0.0142, 0.0126, 0.0111, 0.0096, 0.0076, 0.0061, 0.0054, 0.0049, 0.0036],
    s8=[0.007, 0.0095, 0.0115, 0.0135, 0.0145, 0.0142, 0.0133, 0.0122, 0.0116, 0.011, 0.0105, 0.0098, 0.0092, 0.0093, 0.009, 0.0065],
)
MED_B44 = [31.0, 30.8, 31.2, 31.4, 31.6, 32.2, 32.0, 40.6]

PANELS = {
    "a": {(0, 0): (GM, A11, MED_A11, YT_06), (0, 1): (GM, A12, MED_A12, YT_06),
          (0, 2): (GW, A13, MED_A13, YT_04), (0, 3): (GW, A14, MED_A14, YT_04),
          (1, 1): (GM, A22, MED_A22, YT_10), (1, 2): (GW, A23, MED_A23, YT_04),
          (1, 3): (GW, A24, MED_A24, YT_04), (2, 2): (GW, A33, MED_A33, YT_04),
          (2, 3): (GW, A34, MED_A34, YT_04), (3, 3): (GA44, A44, MED_A44, YT_04)},
    "b": {(0, 0): (GN, B11, MED_B11, YT_10), (0, 1): (GN, B12, MED_B12, YT_10),
          (0, 2): (GW, B13, MED_B13, YT_04), (0, 3): (GW, B14, MED_B14, YT_04),
          (1, 1): (GN, B22, MED_B22, YT_20), (1, 2): (GW, B23, MED_B23, YT_04),
          (1, 3): (GW, B24, MED_B24, YT_04), (2, 2): (GW, B33, MED_B33, YT_04),
          (2, 3): (GW, B34, MED_B34, YT_04), (3, 3): (GW, B44, MED_B44, YT_04)},
}

# ---------------- layout geometry ----------------
FW = 238
FW_LAST = 227
LB = 31
LB_DENS = 48
LEAD = 141
STEP = 269
FRAME_H = [132, 131, 131, 131]
BOTTOMS = [22, 22, 22, 36]
TOPS = {"a": [38, 7, 7, 7], "b": [60, 7, 7, 7]}
AXIS_COLOR = "#9a9a9a"
TEXT_COLOR = "#222222"
TICK_COLOR = "#333333"


def cell_fig(cell, r, c, top):
    grid, curves, med, yt = cell
    fw = FW_LAST if c == 3 else FW
    lb = LB_DENS if r == 3 else LB
    xmax = 90 * fw / FW
    kw = {"title": COL_TITLES[c]} if r == 0 else {}
    p = figure(width=lb + fw, height=top + FRAME_H[r] + BOTTOMS[r],
               x_range=Range1d(0, xmax), y_range=Range1d(0, yt[-1]),
               toolbar_location=None, output_backend="svg",
               min_border_left=lb, min_border_right=0, min_border_top=top,
               min_border_bottom=BOTTOMS[r], outline_line_color=None, **kw)
    if r == 0:
        p.title.text_font = FONT
        p.title.text_font_size = "17px"
        p.title.text_font_style = "normal"
        p.title.text_color = TEXT_COLOR
        p.title.align = "center"
        p.title.standoff = 9
    p.xgrid.visible = False
    p.ygrid.visible = False
    for i, s in enumerate(SERIES):
        p.line(grid, curves[s], line_color=COLORS[i], line_width=2.8, line_join="round")
    src = ColumnDataSource(dict(x=med, y0=[0] * len(med), y1=[yt[-1]] * len(med), color=COLORS))
    p.segment(x0="x", y0="y0", x1="x", y1="y1", color="color", source=src,
              line_width=1.6, line_dash="7 4")
    for ax in (p.xaxis[0], p.yaxis[0]):
        ax.axis_line_color = AXIS_COLOR
        ax.axis_line_width = 1.3
        ax.major_tick_line_color = AXIS_COLOR
        ax.major_tick_line_width = 1.3
        ax.minor_tick_line_color = None
        ax.major_tick_in = 0
        ax.major_tick_out = 4
        ax.major_label_standoff = 2
        ax.major_label_text_font = FONT
        ax.major_label_text_font_size = "12px"
        ax.major_label_text_color = TICK_COLOR
    p.xaxis.ticker = FixedTicker(ticks=X_TICKS)
    p.yaxis.ticker = FixedTicker(ticks=yt)
    p.yaxis.formatter = CustomJSTickFormatter(code="return String(Number(tick.toFixed(3)));")
    if r == 3:
        p.yaxis.axis_label = Y_LABEL
        p.yaxis.axis_label_text_font = FONT
        p.yaxis.axis_label_text_font_size = "13px"
        p.yaxis.axis_label_text_font_style = "normal"
        p.yaxis.axis_label_text_color = TEXT_COLOR
        p.yaxis.axis_label_standoff = 4
        p.xaxis.axis_label = X_LABEL
        p.xaxis.axis_label_text_font = FONT
        p.xaxis.axis_label_text_font_size = "14.5px"
        p.xaxis.axis_label_text_font_style = "normal"
        p.xaxis.axis_label_text_color = TEXT_COLOR
        p.xaxis.axis_label_standoff = 3
    return p


def blank_fig(width, top, frame_h, bottom):
    # y runs downward from 0 at the frame top
    p = figure(width=width, height=top + frame_h + bottom, x_range=Range1d(0, width),
               y_range=Range1d(frame_h, 0), toolbar_location=None, output_backend="svg",
               min_border_left=0, min_border_right=0, min_border_top=top,
               min_border_bottom=bottom, outline_line_color=None,
               x_axis_type=None, y_axis_type=None)
    p.xgrid.visible = False
    p.ygrid.visible = False
    return p


def row_label(p, lines, xr, yc):
    n = len(lines)
    p.text(x=[xr] * n, y=[yc + (i - (n - 1) / 2) * 21 for i in range(n)], text=lines,
           text_font=value(FONT), text_font_size="17px", text_align="right",
           text_baseline="middle", text_color=TEXT_COLOR)


def panel(letter):
    tops = TOPS[letter]
    heights = [tops[r] + FRAME_H[r] + BOTTOMS[r] for r in range(4)]
    total_h = sum(heights)
    # left strip: holds the panel letter and the first row label
    strip = blank_fig(LEAD, 0, total_h, 0)
    baseline = tops[0] + 8 if letter == "a" else tops[0]
    strip.text(x=[25 if letter == "a" else 19], y=[baseline - 17], text=[letter],
               text_font=value(FONT), text_font_size="48px", text_align="left",
               text_baseline="middle", text_color="#111111")
    row_label(strip, ROW_LABELS[0], LEAD - 6, tops[0] + FRAME_H[0] / 2 - 1)

    rows = []
    for r in range(4):
        top = tops[r]
        fh = FRAME_H[r]
        children = []
        if r > 0:
            w0 = STEP * r - (LB_DENS - LB if r == 3 else 0)
            lf = blank_fig(w0, top, fh, BOTTOMS[r])
            row_label(lf, ROW_LABELS[r], w0 - (10 if r == 2 else 7), fh / 2)
            if r == 3 and letter == "a":
                x0 = [573 - LEAD + (i // 4) * 119 for i in range(8)]
                yy = [34 + (i % 4) * 28.7 for i in range(8)]
                leg = ColumnDataSource(dict(x0=x0, x1=[x + 67 for x in x0], y=yy,
                                            tx=[x + 74 for x in x0], color=COLORS, label=SERIES))
                lf.segment(x0="x0", y0="y", x1="x1", y1="y", color="color", line_width=5.5,
                           source=leg)
                lf.text(x="tx", y="y", text="label", source=leg, text_font=value(FONT),
                        text_font_size="22px", text_baseline="middle", text_align="left",
                        text_color=TEXT_COLOR)
            children.append(lf)
        for c in range(r, 4):
            children.append(cell_fig(PANELS[letter][(r, c)], r, c, top))
        rows.append(row(*children))
    return row(strip, column(*rows))


layout = column(panel("a"), panel("b"))
open("out.html", "w").write(file_html(layout, INLINE))
